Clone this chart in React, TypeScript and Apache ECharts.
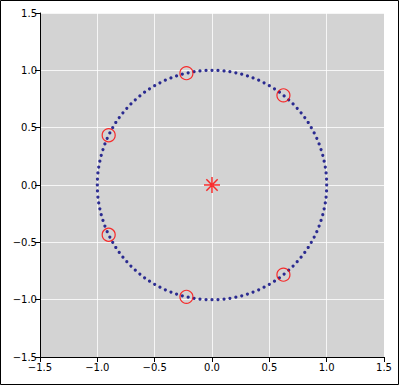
import React, { useEffect, useRef } from "react";
import * as echarts from "echarts";

const circlePoints: number[][] = [
  [1.000,0.000],[0.999,0.052],[0.995,0.105],[0.988,0.156],[0.978,0.208],[0.966,0.259],[0.951,0.309],[0.934,0.358],[0.914,0.407],[0.891,0.454],[0.866,0.500],[0.839,0.545],[0.809,0.588],[0.777,0.629],[0.743,0.669],[0.707,0.707],[0.669,0.743],[0.629,0.777],[0.588,0.809],[0.545,0.839],[0.500,0.866],[0.454,0.891],[0.407,0.914],[0.358,0.934],[0.309,0.951],[0.259,0.966],[0.208,0.978],[0.156,0.988],[0.105,0.995],[0.052,0.999],
  [0.000,1.000],[-0.052,0.999],[-0.105,0.995],[-0.156,0.988],[-0.208,0.978],[-0.259,0.966],[-0.309,0.951],[-0.358,0.934],[-0.407,0.914],[-0.454,0.891],[-0.500,0.866],[-0.545,0.839],[-0.588,0.809],[-0.629,0.777],[-0.669,0.743],[-0.707,0.707],[-0.743,0.669],[-0.777,0.629],[-0.809,0.588],[-0.839,0.545],[-0.866,0.500],[-0.891,0.454],[-0.914,0.407],[-0.934,0.358],[-0.951,0.309],[-0.966,0.259],[-0.978,0.208],[-0.988,0.156],[-0.995,0.105],[-0.999,0.052],
  [-1.000,0.000],[-0.999,-0.052],[-0.995,-0.105],[-0.988,-0.156],[-0.978,-0.208],[-0.966,-0.259],[-0.951,-0.309],[-0.934,-0.358],[-0.914,-0.407],[-0.891,-0.454],[-0.866,-0.500],[-0.839,-0.545],[-0.809,-0.588],[-0.777,-0.629],[-0.743,-0.669],[-0.707,-0.707],[-0.669,-0.743],[-0.629,-0.777],[-0.588,-0.809],[-0.545,-0.839],[-0.500,-0.866],[-0.454,-0.891],[-0.407,-0.914],[-0.358,-0.934],[-0.309,-0.951],[-0.259,-0.966],[-0.208,-0.978],[-0.156,-0.988],[-0.105,-0.995],[-0.052,-0.999],
  [0.000,-1.000],[0.052,-0.999],[0.105,-0.995],[0.156,-0.988],[0.208,-0.978],[0.259,-0.966],[0.309,-0.951],[0.358,-0.934],[0.407,-0.914],[0.454,-0.891],[0.500,-0.866],[0.545,-0.839],[0.588,-0.809],[0.629,-0.777],[0.669,-0.743],[0.707,-0.707],[0.743,-0.669],[0.777,-0.629],[0.809,-0.588],[0.839,-0.545],[0.866,-0.500],[0.891,-0.454],[0.914,-0.407],[0.934,-0.358],[0.951,-0.309],[0.966,-0.259],[0.978,-0.208],[0.988,-0.156],[0.995,-0.105],[0.999,-0.052],
];

const rootPoints: number[][] = [
  [0.623, 0.782], [-0.223, 0.975], [-0.901, 0.434],
  [-0.901, -0.434], [-0.223, -0.975], [0.623, -0.782],
];

const centerPoint: number[][] = [[0, 0]];

const axisMin = -1.5;
const axisMax = 1.5;
const axisStep = 0.5;

const fmt = (v: number) => v.toFixed(1).replace("-", "\u2212");

export default function App() {
  const ref = useRef<HTMLDivElement>(null);
  useEffect(() => {
    if (!ref.current) return;
    const chart = echarts.init(ref.current, null, { renderer: "svg" });
    const axisCommon = {
      type: "value" as const,
      min: axisMin,
      max: axisMax,
      interval: axisStep,
      axisLine: { show: true, onZero: false, lineStyle: { color: "#000", width: 1 } },
      axisTick: { show: true, inside: false, length: 5, lineStyle: { color: "#000" } },
      splitLine: { show: true, lineStyle: { color: "#ffffff", width: 1, opacity: 0.8 } },
    };
    const labelCommon = {
      formatter: fmt,
      color: "#000",
      fontSize: 10,
      fontFamily: "DejaVu Sans",
      lineHeight: 10,
    };
    chart.setOption({
      animation: false,
      backgroundColor: "#ffffff",
      grid: {
        left: 40,
        right: 15,
        top: 13,
        bottom: 28,
        show: true,
        backgroundColor: "#d3d3d3",
        borderWidth: 0,
      },
      xAxis: { ...axisCommon, position: "bottom", axisLabel: { ...labelCommon, margin: 5 } },
      yAxis: { ...axisCommon, position: "left", axisLabel: { ...labelCommon, margin: 3 } },
      graphic: [
        {
          type: "rect",
          shape: { x: 0.5, y: 0.5, width: 398, height: 384 },
          style: { fill: "none", stroke: "#000", lineWidth: 1 },
          z: 100,
        },
      ],
      series: [
        {
          type: "scatter",
          data: circlePoints,
          symbol: "circle",
          symbolSize: 3.2,
          itemStyle: { color: "#000080" },
          z: 2,
        },
        {
          type: "scatter",
          data: rootPoints,
          symbol: "circle",
          symbolSize: 13,
          itemStyle: { color: "transparent", borderColor: "#ff0000", borderWidth: 1.2 },
          z: 3,
        },
        {
          type: "scatter",
          data: centerPoint,
          symbol: "path://M0,-1L0,1M-1,0L1,0M-0.707,-0.707L0.707,0.707M-0.707,0.707L0.707,-0.707",
          symbolSize: 16,
          itemStyle: { color: "none", borderColor: "#ff0000", borderWidth: 1.5 },
          z: 4,
        },
      ],
    });
    return () => chart.dispose();
  }, []);
  return (
    <div
      ref={ref}
      style={{ position: "fixed", left: 0, top: 0, width: 399, height: 385 }}
    />
  );
}
